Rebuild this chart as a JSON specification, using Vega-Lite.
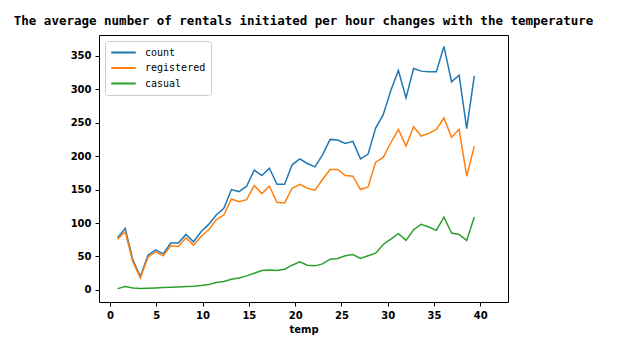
{
  "$schema": "https://vega.github.io/schema/vega-lite/v6.json",
  "autosize": "none",
  "width": 409,
  "height": 267,
  "padding": {"left": 99, "top": 35, "right": 132, "bottom": 55},
  "background": "white",
  "title": {
    "text": "The average number of rentals initiated  per hour changes with the temperature",
    "anchor": "middle",
    "font": "DejaVu Sans Mono",
    "fontSize": 12.5,
    "fontWeight": "bold",
    "color": "black",
    "offset": 8
  },
  "config": {
    "view": {"stroke": "black", "strokeWidth": 1},
    "axis": {
      "domain": false,
      "grid": false,
      "tickColor": "black",
      "tickSize": 4,
      "labelColor": "black",
      "labelFont": "DejaVu Sans",
      "labelFontSize": 10,
      "labelFontWeight": "bold",
      "titleColor": "black",
      "titleFont": "DejaVu Sans",
      "titleFontSize": 10,
      "titleFontWeight": "bold"
    }
  },
  "data": {
    "values": [
      {"temp": 0.82, "count": 78, "registered": 76, "casual": 2},
      {"temp": 1.64, "count": 92, "registered": 87, "casual": 5},
      {"temp": 2.46, "count": 45, "registered": 42, "casual": 3},
      {"temp": 3.28, "count": 20, "registered": 18, "casual": 2},
      {"temp": 4.1, "count": 52, "registered": 49, "casual": 2.5},
      {"temp": 4.92, "count": 60, "registered": 57, "casual": 3},
      {"temp": 5.74, "count": 54, "registered": 51, "casual": 3.5},
      {"temp": 6.56, "count": 70, "registered": 66, "casual": 4},
      {"temp": 7.38, "count": 70, "registered": 65, "casual": 4.5},
      {"temp": 8.2, "count": 83, "registered": 78, "casual": 5},
      {"temp": 9.02, "count": 72, "registered": 67, "casual": 5.5},
      {"temp": 9.84, "count": 87, "registered": 80, "casual": 6.5},
      {"temp": 10.66, "count": 98, "registered": 90, "casual": 8},
      {"temp": 11.48, "count": 112, "registered": 105, "casual": 11},
      {"temp": 12.3, "count": 122, "registered": 112, "casual": 12.5},
      {"temp": 13.12, "count": 150, "registered": 136, "casual": 16},
      {"temp": 13.94, "count": 147, "registered": 132, "casual": 18},
      {"temp": 14.76, "count": 155, "registered": 135, "casual": 21},
      {"temp": 15.58, "count": 179, "registered": 156, "casual": 25},
      {"temp": 16.4, "count": 171, "registered": 144, "casual": 29},
      {"temp": 17.22, "count": 182, "registered": 155, "casual": 30},
      {"temp": 18.04, "count": 158, "registered": 131, "casual": 29},
      {"temp": 18.86, "count": 158, "registered": 130, "casual": 31},
      {"temp": 19.68, "count": 187, "registered": 152, "casual": 37},
      {"temp": 20.5, "count": 196, "registered": 158, "casual": 42},
      {"temp": 21.32, "count": 189, "registered": 152, "casual": 37},
      {"temp": 22.14, "count": 184, "registered": 149, "casual": 36},
      {"temp": 22.96, "count": 202, "registered": 165, "casual": 39},
      {"temp": 23.78, "count": 225, "registered": 180, "casual": 46},
      {"temp": 24.6, "count": 224, "registered": 180, "casual": 47},
      {"temp": 25.42, "count": 219, "registered": 171, "casual": 51},
      {"temp": 26.24, "count": 222, "registered": 170, "casual": 53},
      {"temp": 27.06, "count": 196, "registered": 150, "casual": 47},
      {"temp": 27.88, "count": 203, "registered": 154, "casual": 51},
      {"temp": 28.7, "count": 242, "registered": 191, "casual": 55},
      {"temp": 29.52, "count": 262, "registered": 198, "casual": 68},
      {"temp": 30.34, "count": 298, "registered": 220, "casual": 76},
      {"temp": 31.16, "count": 328, "registered": 240, "casual": 84},
      {"temp": 31.98, "count": 287, "registered": 215, "casual": 74},
      {"temp": 32.8, "count": 331, "registered": 244, "casual": 90},
      {"temp": 33.62, "count": 327, "registered": 230, "casual": 98},
      {"temp": 34.44, "count": 326, "registered": 234, "casual": 94},
      {"temp": 35.26, "count": 326, "registered": 240, "casual": 89},
      {"temp": 36.08, "count": 364, "registered": 257, "casual": 109},
      {"temp": 36.9, "count": 311, "registered": 228, "casual": 85},
      {"temp": 37.72, "count": 321, "registered": 240, "casual": 83},
      {"temp": 38.54, "count": 241, "registered": 170, "casual": 74},
      {"temp": 39.36, "count": 320, "registered": 215, "casual": 109}
    ]
  },
  "transform": [
    {"fold": ["count", "registered", "casual"], "as": ["series", "value"]}
  ],
  "mark": {"type": "line", "strokeWidth": 1.5, "clip": true},
  "encoding": {
    "x": {
      "field": "temp",
      "type": "quantitative",
      "title": "temp",
      "scale": {"domain": [-1.19, 43.0], "nice": false, "zero": false},
      "axis": {"values": [0, 5, 10, 15, 20, 25, 30, 35, 40], "titlePadding": 4, "labelPadding": 4}
    },
    "y": {
      "field": "value",
      "type": "quantitative",
      "title": null,
      "scale": {"domain": [-18, 381], "nice": false, "zero": false},
      "axis": {"values": [0, 50, 100, 150, 200, 250, 300, 350], "labelPadding": 4}
    },
    "color": {
      "field": "series",
      "type": "nominal",
      "scale": {"domain": ["count", "registered", "casual"], "range": ["#1f77b4", "#ff7f0e", "#2ca02c"]},
      "legend": {
        "title": null,
        "orient": "top-left",
        "offset": 6,
        "symbolType": "stroke",
        "symbolSize": 600,
        "symbolStrokeWidth": 1.8,
        "clipHeight": 13,
        "rowPadding": 2.5,
        "labelFont": "DejaVu Sans Mono",
        "labelFontSize": 10,
        "labelColor": "black",
        "labelOffset": 8,
        "strokeColor": "#cccccc",
        "fillColor": "white",
        "cornerRadius": 3,
        "padding": 5
      }
    }
  }
}
